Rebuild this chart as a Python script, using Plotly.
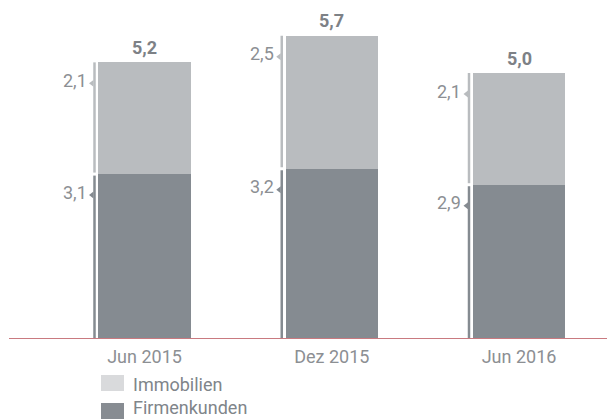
import plotly.graph_objects as go

categories = ["Jun 2015", "Dez 2015", "Jun 2016"]
firmenkunden = [3.1, 3.2, 2.9]
immobilien = [2.1, 2.5, 2.1]
totals = [5.2, 5.7, 5.0]
firm_labels = ["3,1", "3,2", "2,9"]
immo_labels = ["2,1", "2,5", "2,1"]
total_labels = ["5,2", "5,7", "5,0"]

W, H = 607, 420
ML, MR, MT, MB = 0, 0, 0, 81
PX_PER_X = 187.25
PX_PER_Y = 53.2
plot_h = H - MT - MB
X0_PX = 144.5

FONT = "Roboto, Liberation Sans, Arial, sans-serif"
C_LIGHT = "#b9bcbf"
C_DARK = "#858b91"
C_TEXT = "#8c8f93"

xs = list(range(len(categories)))
bar_w = 92.5 / PX_PER_X
line_off = (X0_PX - 94.5) / PX_PER_X
gap = 1.5 / PX_PER_Y
lab_off = 18 / PX_PER_Y
ptr_off = 21 / PX_PER_Y

fig = go.Figure()
fig.add_trace(go.Bar(x=xs, y=firmenkunden, name="Firmenkunden", width=bar_w,
                     marker=dict(color=C_DARK, line=dict(width=0)), showlegend=False,
                     hoverinfo="skip"))
fig.add_trace(go.Bar(x=xs, y=immobilien, name="Immobilien", width=bar_w,
                     marker=dict(color=C_LIGHT, line=dict(width=0)), showlegend=False,
                     hoverinfo="skip"))

shapes = []
annotations = []
ptr_x, ptr_y, ptr_c = [], [], []
for i, x in enumerate(xs):
    lx = x - line_off
    f = firmenkunden[i]
    t = totals[i]
    # bracket lines
    shapes.append(dict(type="line", xref="x", yref="y", x0=lx, x1=lx, y0=0, y1=f - gap,
                       line=dict(color=C_DARK, width=2.5), layer="above"))
    shapes.append(dict(type="line", xref="x", yref="y", x0=lx, x1=lx, y0=f + gap, y1=t,
                       line=dict(color=C_LIGHT, width=2.5), layer="above"))
    # pointers
    for top, col in ((f, C_DARK), (t, C_LIGHT)):
        ptr_x.append(lx - 2.5 / PX_PER_X)
        ptr_y.append(top - ptr_off)
        ptr_c.append(col)
    # side labels
    annotations.append(dict(x=lx, y=f - lab_off, xref="x", yref="y", text=firm_labels[i],
                            showarrow=False, xanchor="right", yanchor="middle", xshift=-6,
                            font=dict(family=FONT, size=18, color=C_TEXT)))
    annotations.append(dict(x=lx, y=t - lab_off, xref="x", yref="y", text=immo_labels[i],
                            showarrow=False, xanchor="right", yanchor="middle", xshift=-6,
                            font=dict(family=FONT, size=18, color=C_TEXT)))
    # totals
    annotations.append(dict(x=x, y=t, xref="x", yref="y", text="<b>" + total_labels[i] + "</b>",
                            showarrow=False, xanchor="center", yanchor="middle", yshift=15,
                            font=dict(family=FONT, size=18, color="#7d8186")))

fig.add_trace(go.Scatter(x=ptr_x, y=ptr_y, mode="markers",
                         marker=dict(symbol="triangle-left", size=6, color=ptr_c),
                         showlegend=False, hoverinfo="skip"))

# baseline
shapes.append(dict(type="line", xref="paper", yref="y", x0=9 / W, x1=1, y0=0, y1=0,
                   line=dict(color="#c97a80", width=2), layer="above"))

# manual legend
def py(p):
    return (MT + plot_h - p) / plot_h

legend_items = [("Immobilien", "#d9dadc", 375, 391, 384), ("Firmenkunden", "#878c92", 403, 419, 407)]
for name, col, y0, y1, yc in legend_items:
    shapes.append(dict(type="rect", xref="paper", yref="paper", x0=101 / W, x1=124 / W,
                       y0=py(y1), y1=py(y0), fillcolor=col, line=dict(width=0)))
    annotations.append(dict(x=131 / W, y=py(yc), xref="paper", yref="paper", text=name,
                            showarrow=False, xanchor="left", yanchor="middle",
                            font=dict(family=FONT, size=18, color="#80858a")))

fig.update_layout(
    width=W, height=H,
    margin=dict(l=ML, r=MR, t=MT, b=MB, pad=0),
    barmode="stack",
    plot_bgcolor="white", paper_bgcolor="white",
    shapes=shapes, annotations=annotations,
    xaxis=dict(range=[-X0_PX / PX_PER_X, (W - X0_PX) / PX_PER_X], tickvals=xs,
               ticktext=categories, showgrid=False, zeroline=False, showline=False,
               ticks="outside", ticklen=0, ticklabelstandoff=1,
               tickfont=dict(family=FONT, size=18, color=C_TEXT), fixedrange=True),
    yaxis=dict(range=[0, plot_h / PX_PER_Y], visible=False, fixedrange=True),
    showlegend=False,
)

fig.write_html("out.html")
